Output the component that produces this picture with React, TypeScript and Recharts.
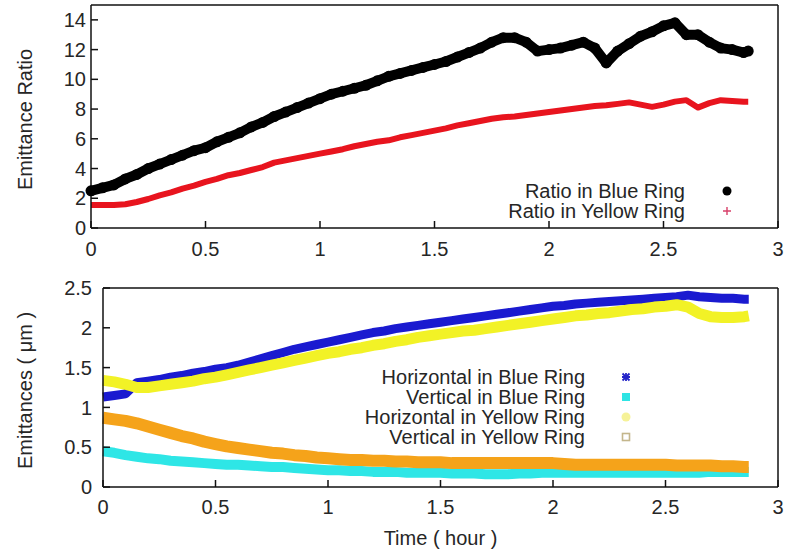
import { LineChart, Line, XAxis, YAxis, Legend } from 'recharts'

const FONT = '"Liberation Sans", Arial, sans-serif'
const TEXT = '#262626'
const FRAME = '#111'

// time in hours
const TIME = [
  0, 0.05, 0.1, 0.15, 0.2, 0.25, 0.3, 0.35, 0.4, 0.45,
  0.5, 0.55, 0.6, 0.65, 0.7, 0.75, 0.8, 0.85, 0.9, 0.95,
  1.0, 1.05, 1.1, 1.15, 1.2, 1.25, 1.3, 1.35, 1.4, 1.45,
  1.5, 1.55, 1.6, 1.65, 1.7, 1.75, 1.8, 1.85, 1.9, 1.95,
  2.0, 2.05, 2.1, 2.15, 2.2, 2.25, 2.3, 2.35, 2.4, 2.45,
  2.5, 2.55, 2.6, 2.65, 2.7, 2.75, 2.8, 2.85, 2.87,
]

// emittance ratio
const RATIO_BLUE = [
  2.5, 2.7, 2.9, 3.3, 3.6, 4.0, 4.3, 4.6, 4.9, 5.2,
  5.4, 5.8, 6.1, 6.4, 6.8, 7.1, 7.5, 7.8, 8.1, 8.4,
  8.7, 9.0, 9.2, 9.4, 9.6, 9.9, 10.2, 10.4, 10.6, 10.8,
  11.0, 11.2, 11.5, 11.8, 12.1, 12.5, 12.8, 12.8, 12.5, 11.9,
  12.0, 12.1, 12.3, 12.5, 12.1, 11.1, 11.9, 12.4, 12.9, 13.2,
  13.6, 13.8, 13.0, 13.0, 12.5, 12.1, 12.0, 11.8, 11.9,
]
const RATIO_YELLOW = [
  1.55, 1.55, 1.55, 1.6, 1.75, 1.95, 2.2, 2.4, 2.65, 2.85,
  3.1, 3.3, 3.55, 3.7, 3.9, 4.1, 4.4, 4.55, 4.7, 4.85,
  5.0, 5.15, 5.3, 5.5, 5.65, 5.8, 5.9, 6.1, 6.25, 6.4,
  6.55, 6.7, 6.9, 7.05, 7.2, 7.35, 7.45, 7.5, 7.6, 7.7,
  7.8, 7.9, 8.0, 8.1, 8.2, 8.25, 8.35, 8.45, 8.3, 8.15,
  8.3, 8.5, 8.6, 8.1, 8.4, 8.6, 8.55, 8.5, 8.5,
]

// emittances (um)
const H_BLUE = [
  1.13, 1.15, 1.17, 1.31, 1.33, 1.35, 1.38, 1.40, 1.43, 1.45,
  1.48, 1.50, 1.53, 1.57, 1.61, 1.65, 1.69, 1.73, 1.76, 1.79,
  1.82, 1.85, 1.88, 1.91, 1.94, 1.96, 1.99, 2.01, 2.03, 2.05,
  2.07, 2.09, 2.11, 2.13, 2.15, 2.17, 2.19, 2.21, 2.23, 2.25,
  2.27, 2.28, 2.30, 2.31, 2.32, 2.33, 2.34, 2.35, 2.36, 2.37,
  2.38, 2.39, 2.41, 2.39, 2.38, 2.37, 2.37, 2.36, 2.36,
]
const V_BLUE = [
  0.45, 0.43, 0.40, 0.38, 0.36, 0.35, 0.33, 0.32, 0.31, 0.30,
  0.29, 0.28, 0.28, 0.27, 0.26, 0.25, 0.25, 0.24, 0.23, 0.22,
  0.21, 0.21, 0.20, 0.20, 0.19, 0.19, 0.19, 0.18, 0.18, 0.18,
  0.18, 0.17, 0.17, 0.17, 0.16, 0.16, 0.16, 0.17, 0.17, 0.18,
  0.18, 0.18, 0.18, 0.18, 0.18, 0.18, 0.18, 0.18, 0.18, 0.18,
  0.18, 0.18, 0.18, 0.18, 0.19, 0.19, 0.19, 0.19, 0.19,
]
const H_YELLOW = [
  1.34, 1.32, 1.29, 1.25, 1.25, 1.27, 1.29, 1.31, 1.33, 1.36,
  1.38, 1.41, 1.44, 1.47, 1.50, 1.53, 1.56, 1.59, 1.62, 1.65,
  1.68, 1.70, 1.73, 1.75, 1.78, 1.80, 1.83, 1.85, 1.88, 1.90,
  1.92, 1.94, 1.96, 1.97, 1.99, 2.01, 2.03, 2.05, 2.07, 2.09,
  2.11, 2.13, 2.15, 2.16, 2.18, 2.19, 2.21, 2.23, 2.24, 2.26,
  2.27, 2.29, 2.26, 2.18, 2.14, 2.13, 2.13, 2.14, 2.15,
]
const V_YELLOW = [
  0.87, 0.85, 0.83, 0.80, 0.76, 0.72, 0.68, 0.64, 0.61, 0.57,
  0.54, 0.51, 0.49, 0.47, 0.45, 0.43, 0.42, 0.40, 0.39, 0.37,
  0.36, 0.35, 0.34, 0.34, 0.33, 0.33, 0.32, 0.32, 0.31, 0.31,
  0.31, 0.30, 0.30, 0.30, 0.30, 0.30, 0.30, 0.30, 0.30, 0.30,
  0.30, 0.29, 0.28, 0.28, 0.28, 0.28, 0.28, 0.28, 0.28, 0.28,
  0.28, 0.27, 0.27, 0.27, 0.27, 0.26, 0.26, 0.25, 0.25,
]

const X_TICKS = [0, 0.5, 1, 1.5, 2, 2.5, 3]
const RATIO_TICKS = [0, 2, 4, 6, 8, 10, 12, 14]
const EMIT_TICKS = [0, 0.5, 1, 1.5, 2, 2.5]

const ratioData = TIME.map((t, i) => ({ t, blue: RATIO_BLUE[i], yellow: RATIO_YELLOW[i] }))
const emitData = TIME.map((t, i) => ({
  t,
  hBlue: H_BLUE[i],
  vBlue: V_BLUE[i],
  hYellow: H_YELLOW[i],
  vYellow: V_YELLOW[i],
}))

// legend order as in the key
const LEGEND_ORDER = ['blue', 'yellow', 'hBlue', 'vBlue', 'hYellow', 'vYellow']

const MARKERS: Record<string, { kind: string; color: string }> = {
  blue: { kind: 'circle', color: '#000' },
  yellow: { kind: 'plus', color: '#d8406a' },
  hBlue: { kind: 'star', color: '#2424c8' },
  vBlue: { kind: 'square', color: '#2ee4e4' },
  hYellow: { kind: 'circle', color: '#f6f298' },
  vYellow: { kind: 'openSquare', color: '#c4b68c' },
}

function Marker({ kind, color }: { kind: string; color: string }) {
  return (
    <svg width={14} height={14} viewBox="-7 -7 14 14">
      {kind === 'circle' && <circle r={4.5} fill={color} />}
      {kind === 'plus' && (
        <path d="M-4 0H4M0 -4V4" stroke={color} strokeWidth={1.4} />
      )}
      {kind === 'star' && (
        <path d="M-4 0H4M0 -4V4M-3.5 -3.5L3.5 3.5M-3.5 3.5L3.5 -3.5" stroke={color} strokeWidth={1.8} />
      )}
      {kind === 'square' && <rect x={-4} y={-4} width={8} height={8} fill={color} />}
      {kind === 'openSquare' && (
        <rect x={-3.5} y={-3.5} width={7} height={7} fill="none" stroke={color} strokeWidth={1.6} />
      )}
    </svg>
  )
}

const legendContent = (textWidth: number, markWidth: number, rowHeight: number) => (props: any) => {
  const items = [...(props.payload || [])].sort(
    (a: any, b: any) => LEGEND_ORDER.indexOf(a.dataKey) - LEGEND_ORDER.indexOf(b.dataKey)
  )
  return (
    <div style={{ fontFamily: FONT, fontSize: 20, color: TEXT }}>
      {items.map((p: any) => {
        const m = MARKERS[p.dataKey]
        return (
          <div key={p.dataKey} style={{ display: 'flex', alignItems: 'center', height: rowHeight }}>
            <span
              style={{
                display: 'block',
                width: textWidth,
                textAlign: 'right',
                whiteSpace: 'nowrap',
                lineHeight: `${rowHeight}px`,
                height: rowHeight,
              }}
            >
              {p.value}
            </span>
            <span style={{ width: markWidth, display: 'flex', justifyContent: 'center' }}>
              <Marker kind={m.kind} color={m.color} />
            </span>
          </div>
        )
      })}
    </div>
  )
}

const yLabel = (text: string) => (props: any) => {
  const vb = props.viewBox || {}
  const cy = vb.y + vb.height / 2 + 3
  return (
    <text
      x={25}
      y={cy}
      transform={`rotate(-90 25 ${cy})`}
      textAnchor="middle"
      dominantBaseline="central"
      fill={TEXT}
      fontSize={20}
      fontFamily={FONT}
    >
      {text}
    </text>
  )
}

const xLabel = (text: string) => (props: any) => {
  const vb = props.viewBox || {}
  return (
    <text x={vb.x + vb.width / 2} y={vb.y + 58} textAnchor="middle" fill={TEXT} fontSize={20} fontFamily={FONT}>
      {text}
    </text>
  )
}

const tickStyle = { fill: TEXT, fontSize: 20, fontFamily: FONT }
const axisLine = { stroke: FRAME, strokeWidth: 1.5 }
const tickLine = { stroke: FRAME, strokeWidth: 1.5 }

function RatioChart() {
  return (
    <LineChart width={787} height={270} data={ratioData} margin={{ top: 4, right: 8, bottom: 0, left: 0 }}>
      <XAxis
        dataKey="t"
        type="number"
        domain={[0, 3]}
        ticks={X_TICKS}
        interval={0}
        height={42}
        tickSize={-7}
        tickMargin={21}
        tick={tickStyle}
        axisLine={axisLine}
        tickLine={tickLine}
      />
      <XAxis
        xAxisId="top"
        orientation="top"
        type="number"
        domain={[0, 3]}
        ticks={X_TICKS}
        height={1}
        tickSize={-7}
        tick={false}
        axisLine={axisLine}
        tickLine={tickLine}
      />
      <YAxis
        type="number"
        domain={[0, 15]}
        ticks={RATIO_TICKS}
        interval={0}
        width={91}
        tickSize={-7}
        tickMargin={12}
        tick={tickStyle}
        axisLine={axisLine}
        tickLine={tickLine}
        label={yLabel('Emittance Ratio')}
      />
      <YAxis
        yAxisId="right"
        orientation="right"
        type="number"
        domain={[0, 15]}
        ticks={RATIO_TICKS}
        width={1}
        tickSize={-7}
        tick={false}
        axisLine={axisLine}
        tickLine={tickLine}
      />
      <Line
        dataKey="blue"
        name="Ratio in Blue Ring"
        stroke="#000"
        strokeWidth={10}
        strokeLinejoin="round"
        dot={{ r: 5.5, fill: '#000', stroke: 'none' }}
        isAnimationActive={false}
      />
      <Line
        dataKey="yellow"
        name="Ratio in Yellow Ring"
        stroke="#e8141e"
        strokeWidth={6}
        strokeLinejoin="round"
        dot={false}
        isAnimationActive={false}
      />
      <Legend
        layout="vertical"
        align="center"
        verticalAlign="middle"
        wrapperStyle={{ left: 385, top: 181, width: 384 }}
        content={legendContent(300, 84, 20)}
      />
    </LineChart>
  )
}

function EmittanceChart() {
  return (
    <LineChart width={787} height={284} data={emitData} margin={{ top: 17, right: 8, bottom: 0, left: 0 }}>
      <XAxis
        dataKey="t"
        type="number"
        domain={[0, 3]}
        ticks={X_TICKS}
        interval={0}
        height={67}
        tickSize={-7}
        tickMargin={20}
        tick={tickStyle}
        axisLine={axisLine}
        tickLine={tickLine}
        label={xLabel('Time ( hour )')}
      />
      <XAxis
        xAxisId="top"
        orientation="top"
        type="number"
        domain={[0, 3]}
        ticks={X_TICKS}
        height={1}
        tickSize={-7}
        tick={false}
        axisLine={axisLine}
        tickLine={tickLine}
      />
      <YAxis
        type="number"
        domain={[0, 2.5]}
        ticks={EMIT_TICKS}
        interval={0}
        width={103}
        tickSize={-7}
        tickMargin={18}
        tick={tickStyle}
        axisLine={axisLine}
        tickLine={tickLine}
        label={yLabel('Emittances ( μm )')}
      />
      <YAxis
        yAxisId="right"
        orientation="right"
        type="number"
        domain={[0, 2.5]}
        ticks={EMIT_TICKS}
        width={1}
        tickSize={-7}
        tick={false}
        axisLine={axisLine}
        tickLine={tickLine}
      />
      <Line
        dataKey="hBlue"
        name="Horizontal in Blue Ring"
        stroke="#1a1ad0"
        strokeWidth={9}
        strokeLinejoin="round"
        dot={false}
        isAnimationActive={false}
      />
      <Line
        dataKey="vBlue"
        name="Vertical in Blue Ring"
        stroke="#2ee6e6"
        strokeWidth={10}
        strokeLinejoin="round"
        dot={false}
        isAnimationActive={false}
      />
      <Line
        dataKey="hYellow"
        name="Horizontal in Yellow Ring"
        stroke="#f2f226"
        strokeWidth={11}
        strokeLinejoin="round"
        dot={false}
        isAnimationActive={false}
      />
      <Line
        dataKey="vYellow"
        name="Vertical in Yellow Ring"
        stroke="#f5a31a"
        strokeWidth={12}
        strokeLinejoin="round"
        dot={false}
        isAnimationActive={false}
      />
      <Legend
        layout="vertical"
        align="center"
        verticalAlign="middle"
        wrapperStyle={{ left: 285, top: 97, width: 382 }}
        content={legendContent(300, 82, 20)}
      />
    </LineChart>
  )
}

export default function App() {
  return (
    <div style={{ position: 'absolute', left: 0, top: 0, width: 787, height: 554, background: '#fff' }}>
      <div style={{ position: 'absolute', left: 0, top: 0 }}>
        <RatioChart />
      </div>
      <div style={{ position: 'absolute', left: 0, top: 270 }}>
        <EmittanceChart />
      </div>
    </div>
  )
}
